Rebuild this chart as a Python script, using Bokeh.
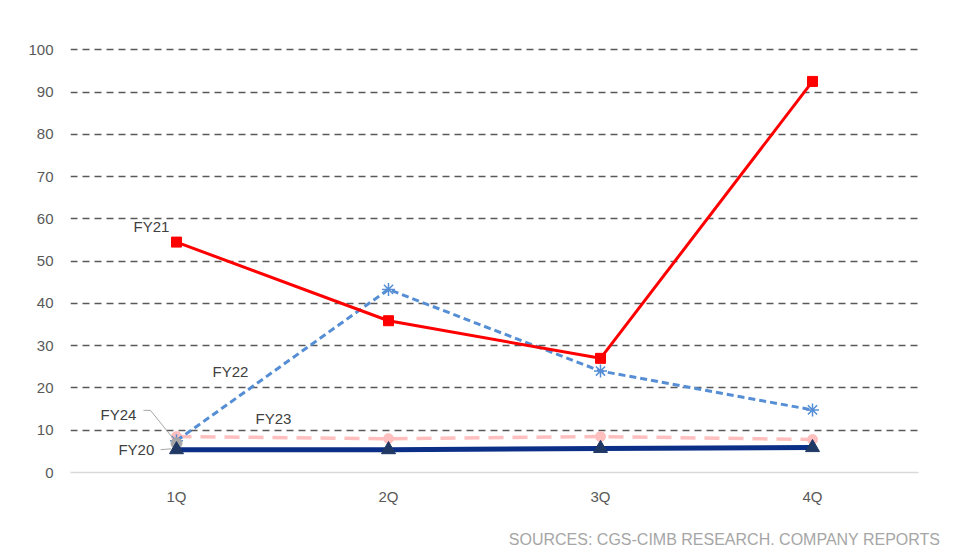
from bokeh.plotting import figure
from bokeh.models import Range1d, FactorRange, FixedTicker, Label, Div
from bokeh.layouts import column
from bokeh.embed import file_html
from bokeh.resources import INLINE

quarters = ["1Q", "2Q", "3Q", "4Q"]
fy20 = [5.4, 5.4, 5.7, 5.9]
fy21 = [54.5, 35.9, 27.0, 92.5]
fy22 = [7.5, 43.3, 24.0, 14.8]
fy23 = [8.5, 8.0, 8.5, 7.8]
fy24_q = ["1Q"]
fy24 = [6.9]
y_ticks = [0, 10, 20, 30, 40, 50, 60, 70, 80, 90, 100]
source_text = "SOURCES: CGS-CIMB RESEARCH. COMPANY REPORTS"

FONT = "Liberation Sans"
GRAY = "#595959"

p = figure(width=955, height=528, x_range=FactorRange(*quarters), y_range=Range1d(0, 101),
           output_backend="svg", toolbar_location=None,
           min_border_left=70, min_border_right=37, min_border_top=45, min_border_bottom=56)
p.outline_line_color = None
p.background_fill_color = "white"
p.border_fill_color = "white"
p.x_range.range_padding = 0

p.xgrid.grid_line_color = None
p.ygrid.ticker = FixedTicker(ticks=y_ticks[1:])
p.ygrid.grid_line_color = GRAY
p.ygrid.grid_line_width = 1.5
p.ygrid.grid_line_dash = "7 5"

p.yaxis.ticker = FixedTicker(ticks=y_ticks)
p.yaxis.axis_line_color = None
p.yaxis.major_tick_line_color = None
p.yaxis.minor_tick_line_color = None
p.yaxis.major_label_standoff = 11
p.xaxis.axis_line_color = "#D9D9D9"
p.xaxis.axis_line_width = 1.5
p.xaxis.major_tick_line_color = None
p.xaxis.major_label_standoff = 9
for ax in (p.xaxis, p.yaxis):
    ax.major_label_text_font = FONT
    ax.major_label_text_font_size = "15px"
    ax.major_label_text_color = GRAY

# FY23 pink long dash
p.line(quarters, fy23, line_color="#FFBFBF", line_width=3.5, line_dash="15 9")
p.scatter(quarters, fy23, marker="circle", size=10, fill_color="#FFBFBF", line_color="#FFBFBF")
# FY22 blue dashed
p.line(quarters, fy22, line_color="#558ED5", line_width=3, line_dash="7 4")
p.scatter(quarters, fy22, marker="asterisk", size=13, line_color="#558ED5", line_width=1.5)
# FY21 red
p.line(quarters, fy21, line_color="#FF0000", line_width=3)
p.scatter(quarters, fy21, marker="square", size=10, fill_color="#FF0000", line_color="#FF0000")
# FY24 gray
p.scatter(fy24_q, fy24, marker="circle", size=11, fill_color="#A6A6A6", line_color="#A6A6A6")
# FY20 navy
p.line(quarters, fy20, line_color="#0B2F87", line_width=5)
p.scatter(quarters, fy20, marker="triangle", size=14, fill_color="#1F3864", line_color="#1F3864")

# leader lines (data units; category width = 1)
p.line([0.344, 0.377, 0.49], [14.7, 14.7, fy24[0] + 0.8], line_color="#A6A6A6", line_width=1)
p.line([0.425, 0.475], [fy20[0], fy20[0] + 0.2], line_color="#A6A6A6", line_width=1)

labels = [("FY21", 0.297, 58.2), ("FY22", 0.670, 23.9), ("FY24", 0.142, 13.7),
          ("FY23", 0.873, 12.8), ("FY20", 0.226, 5.4)]
for t, x, y in labels:
    p.add_layout(Label(x=x, y=y, text=t,
                       text_font=FONT, text_font_size="15px", text_color="#404040",
                       text_baseline="middle", text_align="left"))

div = Div(text=source_text, width=955, height=20, margin=(0, 0, 0, 0),
          styles={"font-family": FONT, "font-size": "16px", "color": "#A6A6A6",
                  "text-align": "right", "width": "940px", "line-height": "24px",
                  "white-space": "nowrap"})

layout = column(p, div, spacing=0)
open("out.html", "w").write(file_html(layout, INLINE))
